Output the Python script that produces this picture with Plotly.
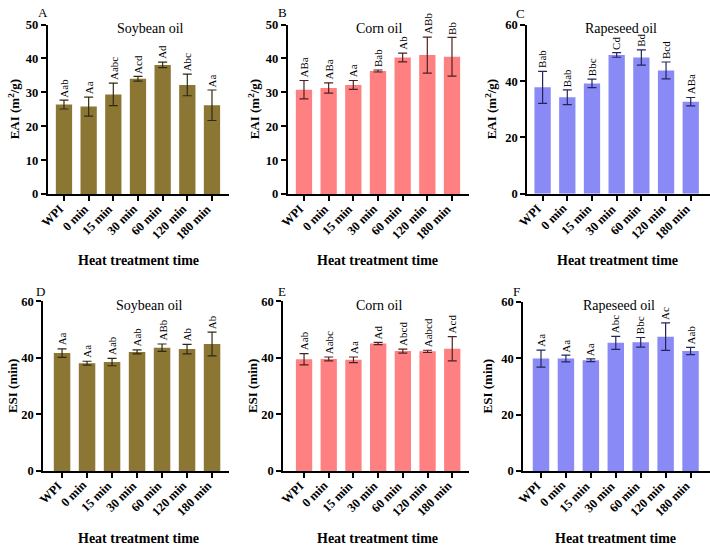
import plotly.graph_objects as go

categories = ["WPI", "0 min", "15 min", "30 min", "60 min", "120 min", "180 min"]

# EAI (m2/g)
eai_soy = [26.4, 25.8, 29.4, 34.0, 38.1, 32.2, 26.2]
eai_soy_err = [1.3, 2.8, 3.3, 0.7, 0.8, 3.2, 4.5]
eai_soy_lbl = ["Aab", "Aa", "Aabc", "Acd", "Ad", "Abc", "Aa"]

eai_corn = [30.8, 31.3, 32.2, 36.3, 40.3, 41.0, 40.5]
eai_corn_err = [2.7, 1.5, 1.3, 0.3, 1.3, 5.3, 5.7]
eai_corn_lbl = ["ABa", "ABa", "Aa", "Bab", "Ab", "ABb", "Bb"]

eai_rape = [37.8, 34.3, 39.2, 49.3, 48.4, 43.8, 32.7]
eai_rape_err = [5.7, 2.6, 1.5, 0.8, 2.7, 3.0, 1.5]
eai_rape_lbl = ["Bab", "Bab", "Bbc", "Cd", "Bd", "Bcd", "ABa"]

# ESI (min)
esi_soy = [41.7, 38.1, 38.5, 42.1, 43.6, 43.1, 44.9]
esi_soy_err = [1.5, 0.7, 1.3, 0.7, 1.3, 1.7, 4.2]
esi_soy_lbl = ["Aa", "Aa", "Aab", "Aab", "ABb", "Ab", "Ab"]

esi_corn = [39.5, 39.6, 39.3, 45.1, 42.4, 42.3, 43.2]
esi_corn_err = [2.0, 0.7, 1.0, 0.4, 0.7, 0.4, 4.3]
esi_corn_lbl = ["Aab", "Aabc", "Aa", "Ad", "Abcd", "Aabcd", "Acd"]

esi_rape = [39.9, 39.9, 39.3, 45.5, 45.7, 47.7, 42.6]
esi_rape_err = [3.0, 1.2, 0.5, 2.3, 1.7, 4.9, 1.3]
esi_rape_lbl = ["Aa", "Aa", "Aa", "Abc", "Bbc", "Ac", "Aab"]

W, H = 710, 551
SERIF = "Liberation Serif, Times New Roman, serif"
idx = list(range(len(categories)))

panels = [
    ("A", "Soybean oil", eai_soy, eai_soy_err, eai_soy_lbl, "#8C7634", "#2e2a14", 50, 10,
     "EAI (m<sup>2</sup>/g)", (47.7, 229), (18, 192), (-0.66, 6.69), (42.7, 6), (150, 22), (138, 260), 14),
    ("B", "Corn oil", eai_corn, eai_corn_err, eai_corn_lbl, "#FF8080", "#4a2222", 50, 10,
     "EAI (m<sup>2</sup>/g)", (287.7, 469), (18, 192), (-0.66, 6.69), (282, 6), (379, 22), (378, 260), 254),
    ("C", "Rapeseed oil", eai_rape, eai_rape_err, eai_rape_lbl, "#8A8AF6", "#25255e", 60, 20,
     "EAI (m<sup>2</sup>/g)", (527.3, 710), (18.3, 191.7), (-0.62, 6.78), (520, 7), (621, 22), (617, 260), 491),
    ("D", "Soybean oil", esi_soy, esi_soy_err, esi_soy_lbl, "#8C7634", "#2e2a14", 60, 20,
     "ESI (min)", (43.3, 229.3), (302, 476), (-0.75, 6.69), (40, 292), (149, 306), (138, 545), 12),
    ("E", "Corn oil", esi_corn, esi_corn_err, esi_corn_lbl, "#FF8080", "#4a2222", 60, 20,
     "ESI (min)", (283.3, 469.3), (302, 476), (-0.84, 6.69), (282, 292), (379, 306), (378, 545), 252),
    ("F", "Rapeseed oil", esi_rape, esi_rape_err, esi_rape_lbl, "#8A8AF6", "#25255e", 60, 20,
     "ESI (min)", (523.3, 710), (302.7, 476), (-0.71, 6.78), (516, 292), (619, 306), (615, 545), 487),
]

fig = go.Figure()
annotations = []

for i, (letter, title, vals, errs, lbls, col, ecol, ymax, dtick, ytitle,
        xpx, ypx, xr, letpos, titpos, xtitpos, ytitx) in enumerate(panels):
    n = i + 1
    xa = "x" if n == 1 else f"x{n}"
    ya = "y" if n == 1 else f"y{n}"
    fig.add_trace(go.Bar(
        x=idx, y=vals, xaxis=xa, yaxis=ya,
        marker=dict(color=col, line=dict(width=0)),
        error_y=dict(type="data", array=errs, visible=True, color=ecol, thickness=1.2, width=4.5),
        width=0.66, showlegend=False,
    ))
    xdom = [xpx[0] / W, min(xpx[1] / W, 1.0)]
    ydom = [1 - ypx[1] / H, 1 - ypx[0] / H]
    axx = dict(domain=xdom, anchor=ya, range=list(xr),
               tickmode="array", tickvals=idx, ticktext=categories, showticklabels=False,
               showline=True, linecolor="black", linewidth=2,
               ticks="outside", ticklen=5, tickwidth=1.5, tickcolor="black",
               showgrid=False, zeroline=False, fixedrange=True)
    axy = dict(domain=ydom, anchor=xa, range=[0, ymax], dtick=dtick, tick0=0,
               showline=True, linecolor="black", linewidth=2,
               ticks="outside", ticklen=5, tickwidth=1.5, tickcolor="black",
               tickfont=dict(family=SERIF, size=12.5, color="black", weight="bold"),
               showgrid=False, zeroline=False, fixedrange=True)
    fig.layout["xaxis" if n == 1 else f"xaxis{n}"] = axx
    fig.layout["yaxis" if n == 1 else f"yaxis{n}"] = axy

    # category tick labels, rotated 45 degrees, ending at each tick
    for k, c in zip(idx, categories):
        annotations.append(dict(x=k, y=0, xref=xa, yref=ya, text="<b>" + c + "</b>", textangle=-45,
                                showarrow=False, xanchor="right", yanchor="top", yshift=-5, xshift=5,
                                font=dict(family=SERIF, size=12.5, color="black")))

    for k, v, e, t in zip(idx, vals, errs, lbls):
        annotations.append(dict(x=k, y=v + e, xref=xa, yref=ya, text=t, textangle=-90,
                                showarrow=False, xanchor="center", yanchor="bottom", yshift=1,
                                font=dict(family=SERIF, size=11, color="black")))
    annotations.append(dict(x=letpos[0] / W, y=1 - letpos[1] / H, xref="paper", yref="paper",
                            text=letter, showarrow=False, xanchor="center", yanchor="middle",
                            font=dict(family=SERIF, size=13, color="black")))
    annotations.append(dict(x=titpos[0] / W, y=1 - titpos[1] / H, xref="paper", yref="paper",
                            text=title, showarrow=False, xanchor="center", yanchor="middle",
                            font=dict(family=SERIF, size=14, color="black")))
    annotations.append(dict(x=xtitpos[0] / W, y=1 - xtitpos[1] / H, xref="paper", yref="paper",
                            text="<b>Heat treatment time</b>", showarrow=False, xanchor="center",
                            yanchor="middle", font=dict(family=SERIF, size=14, color="black")))
    annotations.append(dict(x=ytitx / W, y=(ydom[0] + ydom[1]) / 2, xref="paper", yref="paper",
                            text="<b>" + ytitle + "</b>", textangle=-90, showarrow=False,
                            xanchor="center", yanchor="middle",
                            font=dict(family=SERIF, size=13, color="black")))

fig.update_layout(
    width=W, height=H, margin=dict(l=0, r=0, t=0, b=0),
    paper_bgcolor="white", plot_bgcolor="white",
    font=dict(family=SERIF, color="black"),
    annotations=annotations,
)

fig.write_html("out.html")
